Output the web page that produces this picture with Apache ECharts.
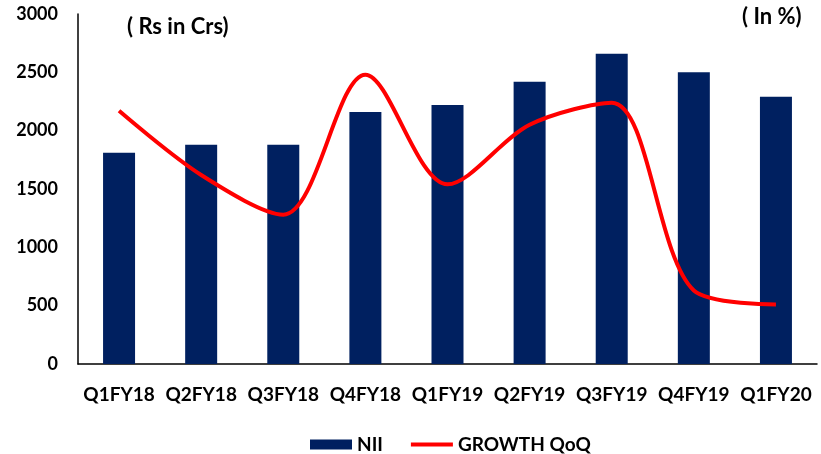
<!DOCTYPE html>
<html>
<head>
<meta charset="utf-8">
<script src="https://cdn.jsdelivr.net/npm/echarts@6/dist/echarts.min.js"></script>
<style>html,body{margin:0;padding:0;background:#fff}#c{width:821px;height:454px}</style>
</head>
<body>
<div id="c"></div>
<script>
// Quarterly net interest income (Rs in Crs) and its quarter-on-quarter growth (%)
const quarters = ['Q1FY18','Q2FY18','Q3FY18','Q4FY18','Q1FY19','Q2FY19','Q3FY19','Q4FY19','Q1FY20'];
const nii = [1810, 1880, 1880, 2160, 2220, 2420, 2660, 2500, 2290];
const growthQoQ = [21.7, 16.2, 12.8, 24.8, 15.4, 20.5, 22.4, 6.3, 5.1];
const niiTicks = [0, 500, 1000, 1500, 2000, 2500, 3000];

const font = 'Lato, "Open Sans", sans-serif';
const chart = echarts.init(document.getElementById('c'));
chart.setOption({
  animation: false,
  textStyle: { fontFamily: font },
  grid: { left: 78, right: 4, top: 14, bottom: 90 },
  graphic: [
    { type: 'text', left: 127, top: 16, style: { text: '( Rs in Crs)', font: 'bold 22px ' + font, fill: '#000' } },
    { type: 'text', left: 742, top: 6, style: { text: '( In %)', font: 'bold 22px ' + font, fill: '#000' } }
  ],
  legend: {
    top: 430, left: 305, itemGap: 26,
    itemWidth: 42, itemHeight: 10,
    textStyle: { fontFamily: font, fontWeight: 'bold', fontSize: 19, color: '#000' },
    data: [
      { name: 'NII', icon: 'rect' },
      { name: 'GROWTH QoQ', itemStyle: { opacity: 0 }, lineStyle: { width: 4, color: '#ff0000' } }
    ]
  },
  xAxis: {
    type: 'category', data: quarters,
    axisLine: { lineStyle: { color: '#000', width: 1.5 } },
    axisTick: { show: false },
    axisLabel: { color: '#000', fontWeight: 'bold', fontSize: 19, margin: 21, fontFamily: font, interval: 0 }
  },
  yAxis: [
    {
      type: 'value', min: niiTicks[0], max: niiTicks[niiTicks.length - 1], interval: 500,
      axisLine: { show: true, lineStyle: { color: '#000', width: 1.5 } },
      axisTick: { show: false },
      splitLine: { show: false },
      axisLabel: { color: '#000', fontWeight: 'bold', fontSize: 18, margin: 20, fontFamily: font,
        formatter: v => String(v) }
    },
    {
      type: 'value', min: 0, max: 30, show: false,
      splitLine: { show: false }
    }
  ],
  series: [
    {
      name: 'NII', type: 'bar', data: nii, barWidth: 32,
      itemStyle: { color: '#002060' }
    },
    {
      name: 'GROWTH QoQ', type: 'line', yAxisIndex: 1, data: growthQoQ,
      smooth: 0.32, symbol: 'none',
      lineStyle: { color: '#ff0000', width: 4 },
      itemStyle: { color: '#ff0000' }
    }
  ]
});
</script>
</body>
</html>
